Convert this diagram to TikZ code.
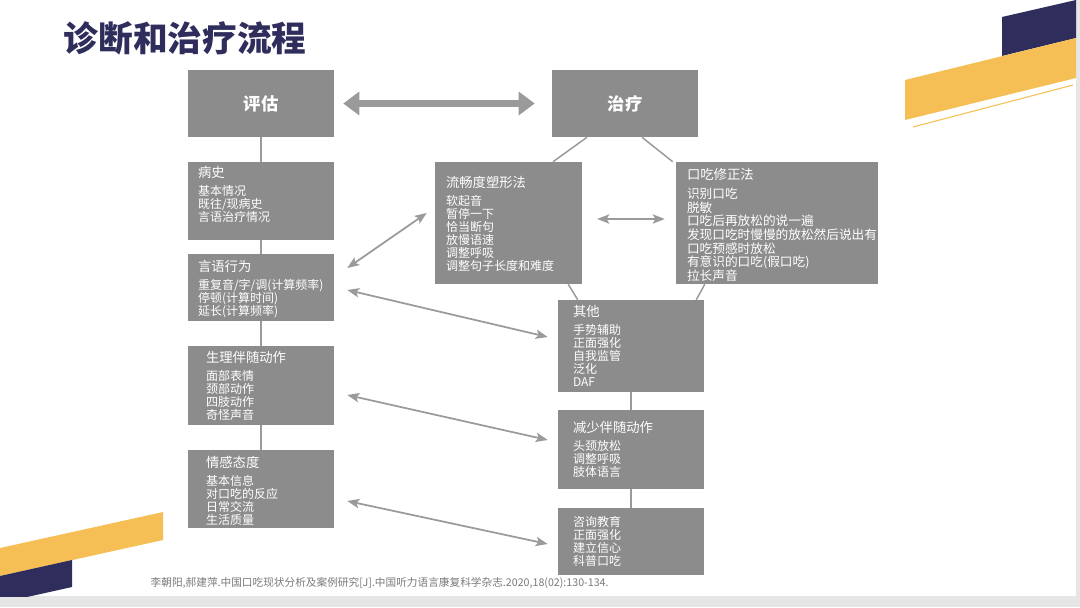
\documentclass[tikz,border=0pt]{standalone}
\usepackage{fontspec}
\setmainfont{Noto Sans CJK SC}
\usepackage{xcolor}
\usepackage{tikz}
\usetikzlibrary{calc,arrows.meta}
\definecolor{boxgray}{HTML}{8C8C8C}
\definecolor{linegray}{HTML}{9A9A9A}
\definecolor{navy}{HTML}{2F2D5C}
\definecolor{gold}{HTML}{F5BF56}
\definecolor{citegray}{HTML}{7A7A7A}
\definecolor{edgegray}{HTML}{E6E6E6}

\tikzset{
  grybox/.style 2 args={rectangle, fill=boxgray, inner sep=0pt,
    minimum width=#1*0.75pt, minimum height=#2*0.75pt},
  boxtxt/.style={anchor=north west, inner sep=0pt, align=left, text=white,
    font=\fontsize{9}{9.75}\selectfont},
  link/.style={draw=linegray, line width=1.1pt},
  twoway/.style={linegray, line width=1.3pt,
    {Stealth[length=9pt,width=7pt,inset=2pt]}-{Stealth[length=9pt,width=7pt,inset=2pt]}},
}
\newcommand{\hd}[1]{{\fontsize{10}{12}\selectfont #1}}

\begin{document}
\begin{tikzpicture}[x=0.75pt, y=-0.75pt]
  \useasboundingbox (0,0) rectangle (1080,607);
  % Slide
  \fill[edgegray] (0,0) rectangle (1080,607);
  \fill[white] (0,0) rectangle (1076,596);
  \begin{scope}
    \clip (0,0) rectangle (1076,596);
    \fill[navy] (1002,17) -- (1076,0) -- (1076,38) -- (1002,56) -- cycle;
    \fill[gold] (905,80) -- (1076,38) -- (1076,78) -- (905,120) -- cycle;
    \draw[gold, line width=0.8pt] (913,127) -- (1073,85);
    \fill[gold] (0,548) -- (163,512) -- (163,540) -- (0,576) -- cycle;
    \fill[navy] (0,576) -- (72,560) -- (72,587) -- (0,603) -- cycle;
  \end{scope}

  % Title
  \node[anchor=west, text=navy, font=\fontsize{26}{30}\selectfont\bfseries] (title) at (59,38) {诊断和治疗流程};

  % Top boxes
  \node[grybox={146}{67}, text=white, font=\fontsize{13}{15}\selectfont\bfseries] (pg) at (261,103.5) {评估};
  \node[grybox={146}{67}, text=white, font=\fontsize{13}{15}\selectfont\bfseries] (zl) at (625,103.5) {治疗};
  \draw[linegray, line width=5pt, {Triangle[length=12pt,width=17pt]}-{Triangle[length=12pt,width=17pt]}] ($(pg.east)+(9,0)$) -- ($(zl.west)+(-17,0)$);

  % Left column
  \node[grybox={146}{78}] (bs) at (261,201) {};
  \node[boxtxt] (bstxt) at ($(bs.north west)+(10,4)$) {\hd{病史}\\[4pt]基本情况\\既往/现病史\\言语治疗情况};
  \node[grybox={146}{67}] (yy) at (261,287.5) {};
  \node[boxtxt] (yytxt) at ($(yy.north west)+(10,6)$) {\hd{言语行为}\\[4pt]重复音/字/调(计算频率)\\停顿(计算时间)\\延长(计算频率)};
  \node[grybox={146}{79}] (sl) at (261,385.5) {};
  \node[boxtxt] (sltxt) at ($(sl.north west)+(18,5)$) {\hd{生理伴随动作}\\[4pt]面部表情\\颈部动作\\四肢动作\\奇怪声音};
  \node[grybox={146}{78}] (qg) at (261,489) {};
  \node[boxtxt] (qgtxt) at ($(qg.north west)+(18,6)$) {\hd{情感态度}\\[4pt]基本信息\\对口吃的反应\\日常交流\\生活质量};
  \draw[link] (pg.south) -- (bs.north);
  \draw[link] (bs.south) -- (yy.north);
  \draw[link] (yy.south) -- (sl.north);
  \draw[link] (sl.south) -- (qg.north);

  % Right side
  \node[grybox={147}{122}] (lc) at (508.5,223) {};
  \node[boxtxt] (lctxt) at ($(lc.north west)+(11,14)$) {\hd{流畅度塑形法}\\[4pt]软起音\\暂停一下\\恰当断句\\放慢语速\\调整呼吸\\调整句子长度和难度};
  \node[grybox={202}{122}] (kc) at (777,223) {};
  \node[boxtxt, font=\fontsize{9.5}{10.3}\selectfont] (kctxt) at ($(kc.north west)+(11,6)$) {\hd{口吃修正法}\\[4pt]识别口吃\\脱敏\\口吃后再放松的说一遍\\发现口吃时慢慢的放松然后说出有\\口吃预感时放松\\有意识的口吃(假口吃)\\拉长声音};
  \node[grybox={146}{92}] (qt) at (631,346) {};
  \node[boxtxt] (qttxt) at ($(qt.north west)+(15,5)$) {\hd{其他}\\[4pt]手势辅助\\正面强化\\自我监管\\泛化\\DAF};
  \node[grybox={146}{79}] (js) at (631,449.5) {};
  \node[boxtxt] (jstxt) at ($(js.north west)+(15,11)$) {\hd{减少伴随动作}\\[4pt]头颈放松\\调整呼吸\\肢体语言};
  \node[grybox={146}{67}] (zx) at (631,541.5) {};
  \node[boxtxt] (zxtxt) at ($(zx.north west)+(15,8)$) {咨询教育\\正面强化\\建立信心\\科普口吃};
  \draw[link] ($(zl.south)+(-38,0)$) -- ($(lc.north)+(44.5,0)$);
  \draw[link] ($(zl.south)+(17,0)$) -- ($(kc.north west)+(-3,0)$);
  \draw[link] ($(lc.south east)+(-14,0)$) -- ($(qt.north west)+(20,0)$);
  \draw[link] ($(kc.south west)+(29,0)$) -- ($(qt.north east)+(-8,0)$);
  \draw[link] (qt.south) -- (js.north);
  \draw[link] (js.south) -- (zx.north);

  % Two-way arrows
  \draw[twoway] ($(yy.east)+(13,-19.5)$) -- ($(lc.west)+(-8,-10)$);
  \draw[twoway] ($(lc.east)+(15,-4)$) -- ($(kc.west)+(-11,-4)$);
  \draw[twoway] ($(yy.east)+(13,2.5)$) -- ($(qt.west)+(-10,-9)$);
  \draw[twoway] ($(sl.east)+(13,9.5)$) -- ($(js.west)+(-10,-9.5)$);
  \draw[twoway] ($(qg.east)+(13,12)$) -- ($(zx.west)+(-10,2.5)$);

  % Source
  \node[anchor=west, text=citegray, font=\fontsize{8}{10}\selectfont] (cite) at (146,583) {李朝阳,郝建萍.中国口吃现状分析及案例研究[J].中国听力语言康复科学杂志.2020,18(02):130-134.};
\end{tikzpicture}
\end{document}
